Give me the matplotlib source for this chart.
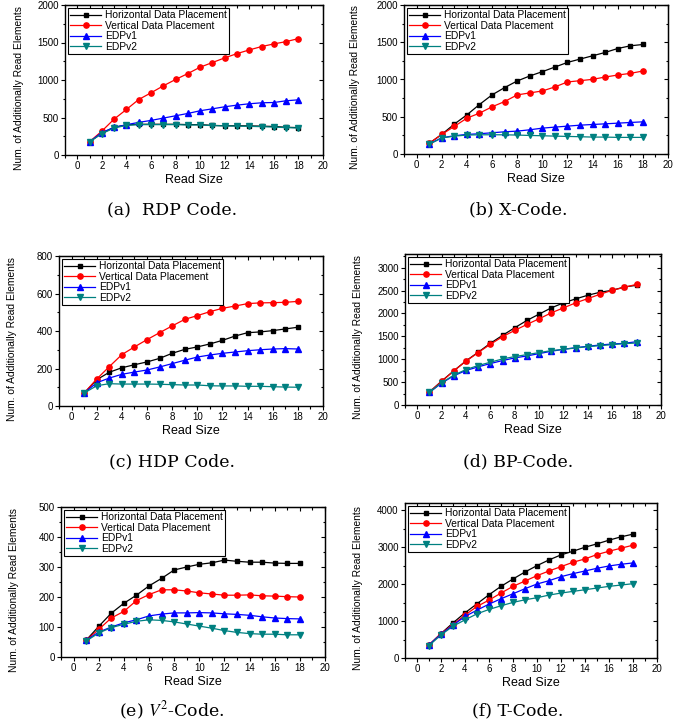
import matplotlib
matplotlib.use("Agg")
import matplotlib.pyplot as plt
from matplotlib.ticker import MultipleLocator

plt.rcParams['font.family'] = ['Liberation Sans', 'DejaVu Sans']
plt.rcParams['mathtext.fontset'] = 'stix'

read_size = list(range(1, 19))
series_names = ["Horizontal Data Placement", "Vertical Data Placement", "EDPv1", "EDPv2"]

# (a) RDP Code
rdp_h = [177, 290, 370, 400, 410, 410, 410, 410, 405, 405, 395, 390, 390, 388, 385, 380, 370, 365]
rdp_v = [177, 319, 479, 607, 740, 829, 922, 1007, 1086, 1171, 1233, 1295, 1352, 1401, 1446, 1481, 1512, 1552]
rdp_e1 = [177, 300, 368, 404, 435, 461, 492, 523, 554, 590, 616, 643, 665, 683, 696, 700, 723, 736]
rdp_e2 = [175, 285, 360, 395, 405, 405, 405, 405, 400, 400, 392, 388, 385, 382, 378, 372, 365, 360]

# (b) X-Code
x_h = [143, 263, 401, 525, 664, 793, 891, 980, 1047, 1105, 1167, 1229, 1274, 1318, 1363, 1416, 1452, 1470]
x_v = [143, 263, 370, 481, 548, 633, 704, 793, 820, 846, 900, 967, 984, 1002, 1033, 1060, 1082, 1114]
x_e1 = [134, 218, 245, 263, 272, 285, 298, 307, 325, 347, 361, 374, 387, 396, 405, 414, 423, 432]
x_e2 = [130, 214, 240, 254, 258, 258, 258, 254, 249, 245, 240, 236, 232, 227, 227, 223, 223, 223]

# (c) HDP Code
hdp_h = [69, 140, 180, 204, 220, 235, 254, 281, 302, 315, 331, 350, 373, 391, 395, 402, 411, 420]
hdp_v = [69, 144, 210, 274, 315, 354, 391, 427, 462, 482, 503, 521, 533, 546, 550, 551, 553, 558]
hdp_e1 = [69, 124, 149, 169, 181, 192, 208, 226, 244, 261, 272, 281, 288, 295, 300, 304, 306, 304]
hdp_e2 = [69, 108, 119, 117, 117, 117, 116, 114, 112, 112, 108, 107, 107, 105, 105, 103, 101, 100]

# (d) BP-Code
bp_h = [283, 522, 746, 964, 1152, 1348, 1522, 1688, 1848, 1986, 2123, 2232, 2319, 2399, 2464, 2507, 2580, 2616]
bp_v = [283, 514, 746, 957, 1145, 1326, 1493, 1630, 1761, 1884, 2014, 2123, 2232, 2326, 2420, 2507, 2572, 2638]
bp_e1 = [275, 478, 638, 754, 833, 906, 971, 1029, 1072, 1123, 1174, 1217, 1254, 1283, 1312, 1333, 1348, 1384]
bp_e2 = [275, 486, 652, 775, 862, 935, 1007, 1058, 1101, 1145, 1188, 1217, 1246, 1275, 1297, 1319, 1341, 1355]

# (e) V^2-Code
v2_h = [56, 102, 146, 179, 206, 237, 262, 290, 300, 309, 314, 323, 319, 316, 316, 313, 312, 312]
v2_v = [56, 92, 130, 152, 188, 208, 224, 224, 220, 214, 210, 206, 206, 207, 204, 203, 201, 200]
v2_e1 = [56, 83, 100, 114, 124, 137, 143, 147, 147, 148, 147, 144, 142, 139, 134, 130, 128, 127]
v2_e2 = [53, 80, 98, 109, 119, 124, 122, 117, 110, 103, 96, 88, 82, 78, 76, 76, 74, 74]

# (f) T-Code
t_h = [354, 662, 952, 1224, 1469, 1714, 1941, 2141, 2331, 2503, 2658, 2794, 2893, 3002, 3093, 3193, 3283, 3356]
t_v = [354, 662, 907, 1161, 1397, 1569, 1760, 1941, 2086, 2231, 2358, 2476, 2594, 2685, 2803, 2893, 2975, 3057]
t_e1 = [354, 644, 889, 1125, 1297, 1460, 1605, 1741, 1878, 2005, 2095, 2204, 2286, 2358, 2431, 2494, 2540, 2576]
t_e2 = [336, 626, 862, 1034, 1197, 1315, 1415, 1506, 1578, 1633, 1705, 1760, 1805, 1850, 1896, 1941, 1977, 2014]

captions = ["(a)  RDP Code.", "(b) X-Code.", "(c) HDP Code.", "(d) BP-Code.",
            "(e) $V^2$-Code.", "(f) T-Code."]
panel_data = [
    (rdp_h, rdp_v, rdp_e1, rdp_e2),
    (x_h, x_v, x_e1, x_e2),
    (hdp_h, hdp_v, hdp_e1, hdp_e2),
    (bp_h, bp_v, bp_e1, bp_e2),
    (v2_h, v2_v, v2_e1, v2_e2),
    (t_h, t_v, t_e1, t_e2),
]
y_max = [2000, 2000, 800, 3300, 500, 4200]
y_major = [500, 500, 200, 500, 100, 1000]

styles = [
    dict(color='black', marker='s', markersize=3.4),
    dict(color='red', marker='o', markersize=3.8),
    dict(color='blue', marker='^', markersize=3.8),
    dict(color='#008080', marker='v', markersize=3.8),
]

W, H = 691, 725
# axes boxes in pixels: left, top, right, bottom
boxes = [
    (65, 5, 323, 155), (404, 5, 668, 154),
    (59, 256, 323, 406), (405, 254, 661, 405),
    (61, 507, 325, 657), (405, 503, 657, 658),
]
caption_y = [210, 210, 462, 462, 711, 711]
caption_x = [172, 518, 172, 518, 172, 518]

fig = plt.figure(figsize=(W / 100, H / 100), dpi=100)

for i in range(6):
    l, t, r, b = boxes[i]
    ax = fig.add_axes([l / W, 1 - b / H, (r - l) / W, (b - t) / H])
    for vals, st, name in zip(panel_data[i], styles, series_names):
        ax.plot(read_size, vals, label=name, lw=0.9, **st)
    ax.set_xlim(-1, 20)
    ax.set_ylim(0, y_max[i])
    ax.xaxis.set_major_locator(MultipleLocator(2))
    ax.xaxis.set_minor_locator(MultipleLocator(1))
    ax.yaxis.set_major_locator(MultipleLocator(y_major[i]))
    ax.yaxis.set_minor_locator(MultipleLocator(y_major[i] / 2))
    ax.tick_params(which='both', direction='out', labelsize=7, pad=1.5, width=0.8)
    ax.tick_params(which='major', length=3)
    ax.tick_params(which='minor', length=1.8)
    for sp in ax.spines.values():
        sp.set_linewidth(1.0)
    top = ax.secondary_xaxis('top')
    top.xaxis.set_major_locator(MultipleLocator(2))
    top.xaxis.set_minor_locator(MultipleLocator(1))
    top.tick_params(which='both', direction='in', labeltop=False, width=0.8)
    top.tick_params(which='major', length=3)
    top.tick_params(which='minor', length=1.8)
    right = ax.secondary_yaxis('right')
    right.yaxis.set_major_locator(MultipleLocator(y_major[i]))
    right.yaxis.set_minor_locator(MultipleLocator(y_major[i] / 2))
    right.tick_params(which='both', direction='in', labelright=False, width=0.8)
    right.tick_params(which='major', length=3)
    right.tick_params(which='minor', length=1.8)
    ax.set_xlabel("Read Size", fontsize=9, labelpad=2)
    ax.set_ylabel("Num. of Additionally Read Elements", fontsize=7.4, labelpad=3)
    ax.yaxis.set_label_coords(-0.16 if i % 2 == 0 else -0.165, 0.45)
    leg = ax.legend(loc='upper left', fontsize=7.4, handlelength=3.0, labelspacing=0.05,
                    borderpad=0.2, borderaxespad=0.3, handletextpad=0.4,
                    fancybox=False, framealpha=1)
    leg.get_frame().set_edgecolor('black')
    leg.get_frame().set_linewidth(0.8)
    fig.text(caption_x[i] / W, 1 - caption_y[i] / H, captions[i], ha='center', va='center',
             fontsize=12.5, family=['DejaVu Serif'])

fig.savefig("out.png", dpi=100)
